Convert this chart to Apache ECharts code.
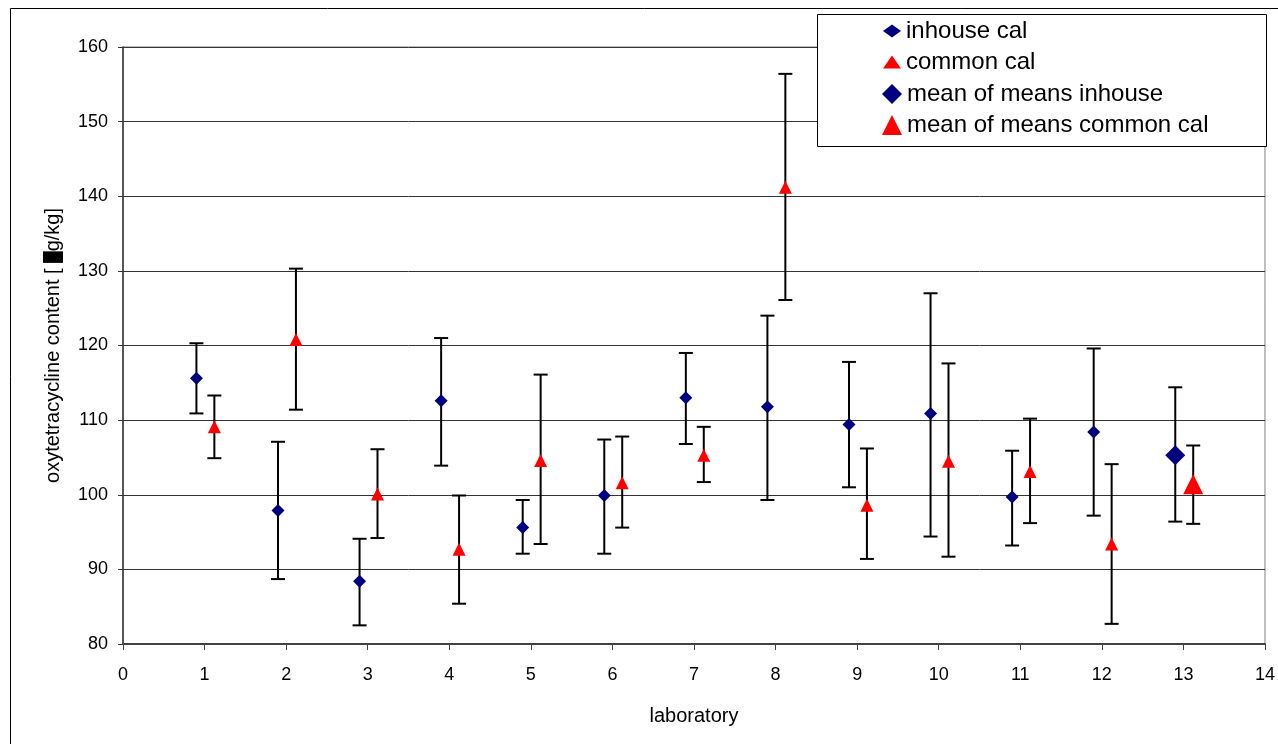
<!DOCTYPE html>
<html>
<head>
<meta charset="utf-8">
<title>oxytetracycline content by laboratory</title>
<script src="https://cdn.jsdelivr.net/npm/echarts@6/dist/echarts.min.js"></script>
<style>
  html, body { margin: 0; padding: 0; background: #fff; }
  #chart { width: 1278px; height: 744px; }
</style>
</head>
<body>
<div id="chart"></div>
<script>
// lab results: mean and lower / upper end of the error bar
const labs = [1, 2, 3, 4, 5, 6, 7, 8, 9, 10, 11, 12];
const inhouseMean = [115.6, 97.9, 88.4, 112.6, 95.6, 99.9, 113.0, 111.8, 109.4, 110.9, 99.7, 108.4];
const inhouseLow = [110.9, 88.7, 82.5, 103.9, 92.1, 92.1, 106.8, 99.3, 101.0, 94.4, 93.2, 97.2];
const inhouseHigh = [120.3, 107.1, 94.1, 121.0, 99.3, 107.4, 119.0, 124.0, 117.8, 127.0, 105.9, 119.6];
const commonMean = [109.1, 120.8, 100.1, 92.7, 104.6, 101.6, 105.3, 141.2, 98.6, 104.5, 103.1, 93.4];
const commonLow = [104.9, 111.4, 94.2, 85.4, 93.4, 95.6, 101.7, 126.1, 91.4, 91.7, 96.2, 82.7];
const commonHigh = [113.3, 130.3, 106.1, 99.9, 116.1, 107.8, 109.1, 156.4, 106.2, 117.6, 110.2, 104.1];

// mean of means, plotted at position 13
const overallLab = 13;
const overallInhouse = [105.3, 96.4, 114.4];
const overallCommon = [101.4, 96.1, 106.6];

const inhouseShift = -0.1;
const commonShift = 0.12;
const font = "'Liberation Sans', Arial, sans-serif";

const inhousePoints = labs.map((lab, i) => [lab + inhouseShift, inhouseMean[i]]);
const commonPoints = labs.map((lab, i) => [lab + commonShift, commonMean[i]]);
const inhouseBars = labs.map((lab, i) => [lab + inhouseShift, inhouseLow[i], inhouseHigh[i]]);
const commonBars = labs.map((lab, i) => [lab + commonShift, commonLow[i], commonHigh[i]]);
inhouseBars.push([overallLab + inhouseShift, overallInhouse[1], overallInhouse[2]]);
commonBars.push([overallLab + commonShift, overallCommon[1], overallCommon[2]]);

function errorBars(points) {
  return {
    type: "custom",
    data: points,
    z: 1,
    silent: true,
    renderItem(params, api) {
      const x = api.value(0);
      const low = api.coord([x, api.value(1)]);
      const high = api.coord([x, api.value(2)]);
      const cap = 7;
      const style = { stroke: "#000", lineWidth: 2 };
      return {
        type: "group",
        children: [
          { type: "line", shape: { x1: high[0], y1: high[1], x2: low[0], y2: low[1] }, style: style },
          { type: "line", shape: { x1: high[0] - cap, y1: high[1], x2: high[0] + cap, y2: high[1] }, style: style },
          { type: "line", shape: { x1: low[0] - cap, y1: low[1], x2: low[0] + cap, y2: low[1] }, style: style }
        ]
      };
    }
  };
}

const chart = echarts.init(document.getElementById("chart"));

const option = {
  animation: false,
  backgroundColor: "#fff",
  textStyle: { fontFamily: font },
  graphic: [
    {
      type: "rect",
      z: -10,
      shape: { x: 10.5, y: 8.5, width: 1300, height: 800 },
      style: { fill: "none", stroke: "#000", lineWidth: 1 }
    },
    {
      type: "rect",
      z: 5,
      shape: { x: 817.5, y: 14.5, width: 449, height: 132 },
      style: { fill: "#fff", stroke: "#000", lineWidth: 1 }
    }
  ],
  legend: [
    {
      orient: "vertical",
      left: 883,
      top: 19,
      z: 10,
      padding: 0,
      itemGap: 7,
      itemWidth: 18,
      itemHeight: 13,
      data: ["inhouse cal", "common cal"],
      textStyle: { fontSize: 24, color: "#000", fontFamily: font, lineHeight: 24 }
    },
    {
      orient: "vertical",
      left: 882,
      top: 82,
      z: 10,
      padding: 0,
      itemGap: 7,
      itemWidth: 20,
      itemHeight: 20,
      data: ["mean of means inhouse", "mean of means common cal"],
      textStyle: { fontSize: 24, color: "#000", fontFamily: font, lineHeight: 24 }
    }
  ],
  grid: {
    left: 123,
    right: 10,
    top: 47,
    bottom: 100,
    show: true,
    borderColor: "#808080",
    borderWidth: 1
  },
  xAxis: {
    type: "value",
    min: 0,
    max: 14,
    interval: 1,
    name: "laboratory",
    nameLocation: "middle",
    nameGap: 62,
    nameTextStyle: { fontSize: 20, color: "#000", fontFamily: font },
    splitLine: { show: false },
    axisLine: { lineStyle: { color: "#404040", width: 2 } },
    axisTick: { inside: false, length: 6, lineStyle: { color: "#404040" } },
    axisLabel: { fontSize: 18, color: "#000", margin: 22, fontFamily: font }
  },
  yAxis: {
    type: "value",
    min: 80,
    max: 160,
    interval: 10,
    name: "oxytetracycline content [ {box|µ}g/kg]",
    nameLocation: "middle",
    nameGap: 60,
    nameTextStyle: {
      fontSize: 20,
      color: "#000",
      fontFamily: font,
      rich: { box: { fontSize: 20, color: "#000", backgroundColor: "#000", fontFamily: font } }
    },
    splitLine: { show: true, lineStyle: { color: "#333", width: 1 } },
    axisLine: { show: true, lineStyle: { color: "#333", width: 1.5 } },
    axisTick: { show: true, inside: false, length: 5, lineStyle: { color: "#333" } },
    axisLabel: { fontSize: 18, color: "#000", margin: 15, fontFamily: font }
  },
  series: [
    errorBars(inhouseBars),
    errorBars(commonBars),
    {
      name: "inhouse cal",
      type: "scatter",
      symbol: "diamond",
      symbolSize: 13,
      z: 3,
      itemStyle: { color: "#000080", opacity: 1 },
      data: inhousePoints
    },
    {
      name: "common cal",
      type: "scatter",
      symbol: "triangle",
      symbolSize: 13,
      z: 3,
      itemStyle: { color: "#ff0000", opacity: 1 },
      data: commonPoints
    },
    {
      name: "mean of means inhouse",
      type: "scatter",
      symbol: "diamond",
      symbolSize: 20,
      z: 3,
      itemStyle: { color: "#000080", opacity: 1 },
      data: [[overallLab + inhouseShift, overallInhouse[0]]]
    },
    {
      name: "mean of means common cal",
      type: "scatter",
      symbol: "triangle",
      symbolSize: 20,
      z: 3,
      itemStyle: { color: "#ff0000", opacity: 1 },
      data: [[overallLab + commonShift, overallCommon[0]]]
    }
  ]
};

chart.setOption(option);
</script>
</body>
</html>
